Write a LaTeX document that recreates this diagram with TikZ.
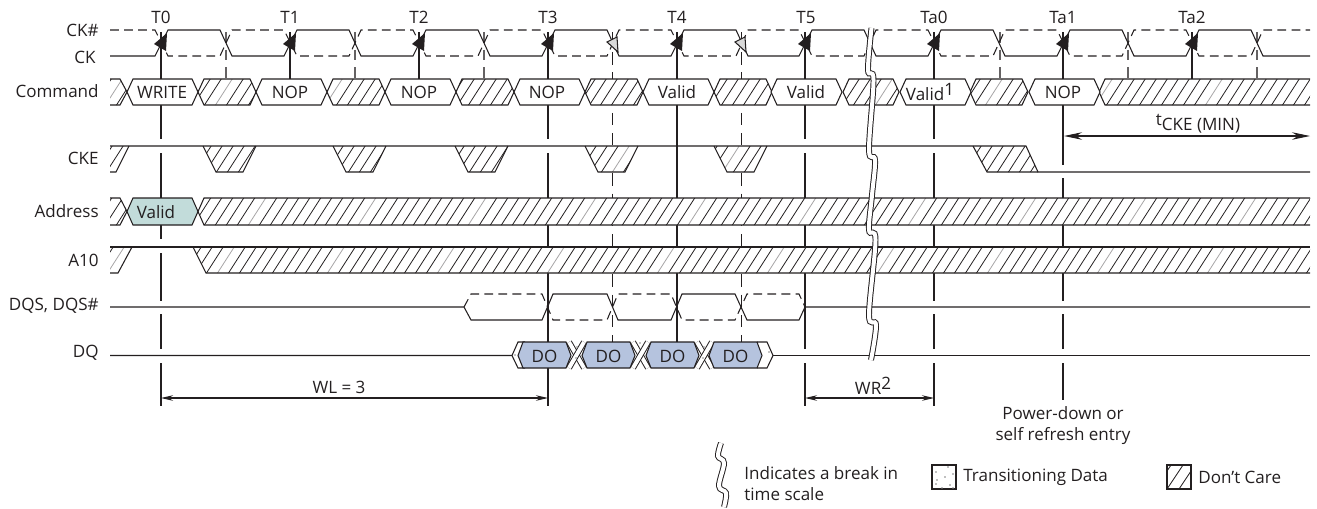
\documentclass[tikz,border=0pt]{standalone}
\usepackage{fontspec}
\setmainfont{Open Sans}
\usepackage{xcolor}
\usetikzlibrary{arrows.meta}
\definecolor{inkc}{HTML}{231F20}
\definecolor{tealc}{HTML}{C2DCDA}
\definecolor{bluec}{HTML}{B5C3DE}
\tikzset{
  sig/.style={draw=inkc, line width=0.6pt},
  dsig/.style={sig, dash pattern=on 5pt off 3pt},
  tline/.style={sig},
  hline/.style={draw=inkc!70, line width=0.6pt, dash pattern=on 6pt off 4pt},
  vdash/.style={draw=inkc, line width=0.5pt, dash pattern=on 7pt off 4.5pt},
  hatchline/.style={draw=inkc, line width=0.45pt},
  brk/.style={draw=inkc, line width=0.55pt, double=white, double distance=0.08cm},
  txt/.style={text=inkc, font=\fontsize{9.7}{12}\selectfont, inner sep=0pt},
  siglabel/.style={txt, anchor=east},
  dim/.style={sig, <->, >={Stealth[length=2.4mm,width=1.1mm]}}
}
\begin{document}
\begin{tikzpicture}[x=0.02cm, y=-0.02cm]
  \useasboundingbox (0,0) rectangle (1317,508);
  \def\Tlist{161,290,419,548,677,805,934,1063,1192}

  % every hatched area of the signals
  \def\hatchareas{
    (110,79) -- (120,79) -- (127,92) -- (120,105) -- (110,105) -- cycle
    \foreach \s in {198,327,456,585,714,970} {
      (\s+6,79) -- (\s+52,79) -- (\s+58,92) -- (\s+52,105) -- (\s+6,105) -- (\s,92) -- cycle
    }
    (843,92) -- (849,79) -- (893,79) -- (899,92) -- (893,105) -- (849,105) -- cycle
    (1099,92) -- (1105,79) -- (1310,79) -- (1310,105) -- (1105,105) -- cycle
    (110,146) -- (129,146) -- (116,172) -- (110,172) -- cycle
    \foreach \s in {203,333,455,585,714} {
      (\s,146) -- (\s+53,146) -- (\s+40,172) -- (\s+13,172) -- cycle
    }
    (973,146) -- (1026,146) -- (1038,172) -- (987,172) -- cycle
    (110,198) -- (120,198) -- (127,211.5) -- (120,225) -- (110,225) -- cycle
    (198,211.5) -- (204,198) -- (1310,198) -- (1310,225) -- (204,225) -- cycle
    (110,247) -- (132,247) -- (118,273) -- (110,273) -- cycle
    (193,247) -- (1310,247) -- (1310,273) -- (206,273) -- cycle
  }

  % clock lines and the vertical time lines
  \foreach \t/\a/\b in {161/32/139, 161/153/239, 161/253/301, 161/314/349, 161/363/406,
    290/32/79, 419/32/79, 548/32/139, 548/153/406, 677/32/342,
    805/32/139, 805/153/349, 805/363/406, 934/32/139, 934/153/301, 934/314/349, 934/363/406,
    1063/32/165, 1063/178/301, 1063/314/349, 1063/363/400, 1192/32/79} {
    \draw[tline] (\t,\a) -- (\t,\b);
  }
  \foreach \t in {226,355,484,1000,1128,1257} {
    \draw[hline] (\t,32) -- (\t,79);
  }
  \draw[vdash] (612,32) -- (612,342);
  \draw[vdash] (741,32) -- (741,342);

  % hatched areas
  \fill[white] \hatchareas;
  \begin{scope}
    \clip \hatchareas;
    \foreach \k in {0,...,125} {
      \pgfmathsetmacro{\hx}{-40+11*\k}
      \pgfmathtruncatemacro{\hk}{mod(\k,10)}
      \ifnum\hk=3
        \draw[hatchline, draw=inkc!40] (\hx,280) -- (\hx+135,70);
      \else
        \draw[hatchline] (\hx,280) -- (\hx+135,70);
      \fi
    }
  \end{scope}

  % CK and CK#
  \draw[dsig] (110,30) \foreach \t in \Tlist { -- (\t-6,30) -- (\t+7,56) -- (\t+59,56) -- (\t+71,30) } -- (1310,30);
  \draw[sig] (110,56) \foreach \t in \Tlist { -- (\t-6,56) -- (\t+7,30) -- (\t+59,30) -- (\t+71,56) } -- (1310,56);
  \foreach \t in \Tlist {
    \fill[inkc] (\t+6,33) -- (\t-7,44) -- (\t+5,51) -- cycle;
  }
  \foreach \t in {607,735} {
    \filldraw[sig, fill=black!15] (\t,42) -- (\t+10,37) -- (\t+11,52) -- cycle;
  }

  % Command
  \draw[sig] (110,79) -- (120,79) -- (127,92) -- (120,105) -- (110,105);
  \foreach \s in {198,327,456,585,714,970} {
    \draw[sig] (\s+6,79) -- (\s+52,79) -- (\s+58,92) -- (\s+52,105) -- (\s+6,105) -- (\s,92) -- cycle;
  }
  \draw[sig] (843,92) -- (849,79) -- (893,79) -- (899,92) -- (893,105) -- (849,105) -- cycle;
  \draw[sig] (1310,79) -- (1105,79) -- (1099,92) -- (1105,105) -- (1310,105);
  \foreach \t in {161,290,419,548,677,805,934,1063} {
    \filldraw[sig, fill=white] (\t-28,79) -- (\t+31,79) -- (\t+37,92) -- (\t+31,105) -- (\t-28,105) -- (\t-34,92) -- cycle;
  }

  % CKE
  \draw[sig] (110,146) -- (1026,146) -- (1038,172) -- (1310,172);
  \draw[sig] (973,146) -- (987,172) -- (1038,172);
  \draw[sig] (129,146) -- (116,172) -- (110,172);
  \foreach \s in {203,333,455,585,714} {
    \draw[sig] (\s,146) -- (\s+13,172) -- (\s+40,172) -- (\s+53,146);
  }

  % Address
  \draw[sig] (110,198) -- (120,198) -- (127,211.5) -- (120,225) -- (110,225);
  \filldraw[sig, fill=tealc] (133,198) -- (192,198) -- (198,211.5) -- (192,225) -- (133,225) -- (127,211.5) -- cycle;
  \draw[sig] (1310,198) -- (204,198) -- (198,211.5) -- (204,225) -- (1310,225);

  % A10
  \draw[sig] (110,247) -- (1310,247);
  \draw[sig] (132,247) -- (118,273) -- (110,273);
  \draw[sig] (193,247) -- (206,273) -- (1310,273);

  % DQS, DQS#
  \draw[sig] (110,307) -- (464,307) -- (471,320) -- (542,320) -- (553,294) -- (607,294) -- (618,320) -- (671,320)
    -- (682,294) -- (735,294) -- (747,320) -- (799,320) -- (805,307) -- (1310,307);
  \draw[dsig] (464,307) -- (471,294) -- (542,294) -- (553,320) -- (607,320) -- (618,294) -- (671,294)
    -- (682,320) -- (735,320) -- (747,294) -- (799,294) -- (805,307);

  % DQ
  \draw[sig] (110,355.5) -- (512,355.5) -- (518,342) -- (525,342);
  \draw[sig] (512,355.5) -- (518,368) -- (525,368);
  \draw[sig] (757,342) -- (767,342) -- (773,355.5) -- (767,368) -- (757,368);
  \draw[sig] (773,355.5) -- (1310,355.5);
  \foreach \s in {569,633,697} {
    \draw[brk] (\s,342) -- (\s+15,368);
    \draw[brk] (\s,368) -- (\s+15,342);
  }
  \foreach \s in {523,587,651,714} {
    \filldraw[sig, fill=bluec] (\s,342) -- (\s+43,342) -- (\s+48,355.5) -- (\s+43,368) -- (\s,368) -- (\s-5,355.5) -- cycle;
  }
  \foreach \px/\py in {515/355, 577/347, 576/358, 640/343, 704/347, 703/358, 769/352} {
    \fill[black!45] (\px,\py) circle (0.45pt);
  }

  % break in the time scale
  \draw[brk] plot[smooth, tension=0.6] coordinates {(871.5,28) (868,70) (873.5,80) (869,150) (875,160) (872,195) (869,230) (875.5,240) (869,315) (876,325) (871,360)};

  % signal names
  \node[siglabel] (lblCKn) at (99,30) {CK\#};
  \node[siglabel] (lblCK) at (96,57) {CK};
  \node[siglabel] (lblCmd) at (99,91) {Command};
  \node[siglabel] (lblCKE) at (99,158) {CKE};
  \node[siglabel] (lblAddr) at (99,211) {Address};
  \node[siglabel] (lblAten) at (99,260) {A10};
  \node[siglabel] (lblDQS) at (99,306) {DQS, DQS\#};
  \node[siglabel] (lblDQ) at (99,353) {DQ};

  % clock edges
  \foreach \t/\n in {161/T0, 290/T1, 419/T2, 548/T3, 677/T4, 806/T5, 934/Ta0, 1063/Ta1, 1192/Ta2} {
    \node[txt] (edge\n) at (\t,17.5) {\n};
  }

  % texts in the boxes
  \node[txt] (cmdW) at (162,92) {WRITE};
  \node[txt] (cmdN1) at (290,92) {NOP};
  \node[txt] (cmdN2) at (419,92) {NOP};
  \node[txt] (cmdN3) at (547,92) {NOP};
  \node[txt] (cmdV1) at (677,92) {Valid};
  \node[txt] (cmdV2) at (806,92) {Valid};
  \node[txt] (cmdV3) at (930,92) {Valid\raisebox{0.55ex}{1}};
  \node[txt] (cmdN4) at (1063,92) {NOP};
  \node[txt] (addrV) at (156,212) {Valid};
  \foreach \px/\k in {544.5/1, 608.5/2, 672.5/3, 735.5/4} {
    \node[txt] (dout\k) at (\px,356) {DO};
  }

  % timing arrows
  \coordinate (wlL) at (161,398);
  \coordinate (wlR) at (548,398);
  \coordinate (wrL) at (805,398);
  \coordinate (wrR) at (934,398);
  \coordinate (ckeL) at (1064,136);
  \coordinate (ckeR) at (1310,136);
  \draw[dim] (wlL) -- (wlR);
  \draw[dim] (wrL) -- (wrR);
  \draw[dim, >={Stealth[length=3.6mm,width=1.5mm]}] (ckeL) -- (ckeR);
  \node[txt] (lblWL) at (339,387) {WL = 3};
  \node[txt] (lblWR) at (873,386) {WR\raisebox{0.55ex}{2}};
  \node[txt] (lblCKEmin) at (1198,124) {\raisebox{0.5ex}{t}CKE (MIN)};
  \node[txt, align=center] (lblPD) at (1063,426) {Power-down or\\self refresh entry};

  % legend
  \draw[brk] plot[smooth, tension=0.6] coordinates {(721,443) (718,456) (724,463) (719,486) (726,493) (724,507)};
  \node[txt, anchor=west, align=left] (lgBreak) at (744,484) {Indicates a break in\\time scale};
  \node[draw=inkc, line width=0.6pt, minimum width=0.48cm, minimum height=0.48cm, inner sep=0pt] (lgDots) at (944,477) {};
  \foreach \px/\py in {948/467, 953/474, 936/472, 945/477, 937/480, 936/484, 950/485, 942/488, 953/488} {
    \fill[black!50] (\px,\py) circle (0.45pt);
  }
  \node[txt, anchor=west] (lgTrans) at (963,477) {Transitioning Data};
  \node[draw=inkc, line width=0.6pt, minimum width=0.48cm, minimum height=0.48cm, inner sep=0pt] (lgHatch) at (1179,477) {};
  \begin{scope}
    \clip (1167,465) rectangle (1191,489);
    \foreach \hx in {1155,1167,1179} {
      \draw[hatchline] (\hx,489) -- (\hx+16,465);
    }
  \end{scope}
  \node[txt, anchor=west] (lgDont) at (1198,477) {Don’t Care};
\end{tikzpicture}
\end{document}
